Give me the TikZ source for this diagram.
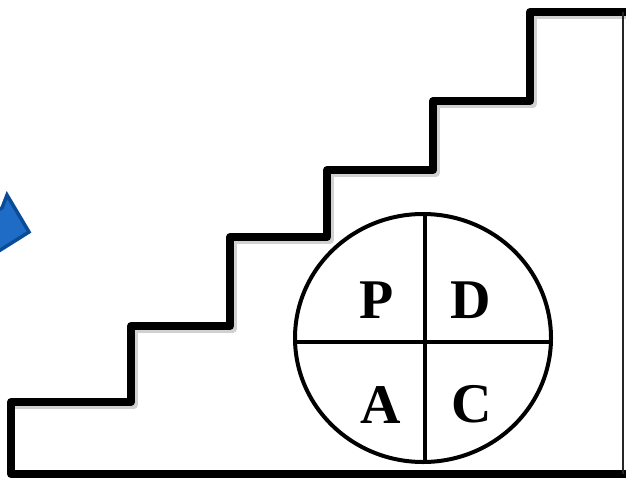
\documentclass[tikz,border=0pt]{standalone}
\usepackage{fontspec}
\setmainfont{Liberation Serif}
\definecolor{arrowfill}{HTML}{1F6CC6}
\definecolor{arrowedge}{HTML}{0B4C98}
\begin{document}
\begin{tikzpicture}[x=1pt,y=-1pt,
  stair/.style={line width=8.2pt,line join=round,line cap=round},
  shadowline/.style={line width=8pt,line join=round,black!18},
  letter/.style={inner sep=0pt,anchor=center,font=\fontsize{56}{56}\selectfont\bfseries},
  pdcaline/.style={line width=4pt}]
\useasboundingbox (0,0) rectangle (626,479);
\fill[white] (0,0) rectangle (626,479);
% blue arrow head (cut off at left)
\fill[draw=arrowedge,fill=arrowfill,line width=3.5pt,line join=miter]
  (-6,212) -- (2,208) -- (7,195) -- (29,232) -- (-6,254) -- cycle;
% shadows
\draw[shadowline,transform canvas={shift={(2.5pt,-3pt)}}]
  (11,402) -- (131,402) -- (131,326) -- (230,326) -- (230,237) -- (327,237)
  -- (327,170) -- (433,170) -- (433,101) -- (530,101) -- (530,12) -- (626,12);
% staircase
\draw[stair] (630,474) -- (11,474) -- (11,402) -- (131,402) -- (131,326)
  -- (230,326) -- (230,237) -- (327,237) -- (327,170) -- (433,170)
  -- (433,101) -- (530,101) -- (530,12) -- (630,12);
\draw[line width=2.4pt,black!85] (623,12) -- (623,474);
% PDCA circle
\coordinate (c) at (423,338);
\draw[pdcaline,fill=white] (c) ellipse [x radius=128,y radius=124];
\coordinate (top) at (425,214);
\coordinate (bot) at (425,462);
\coordinate (lft) at (296,342);
\coordinate (rgt) at (551,342);
\draw[pdcaline] (top) -- (bot);
\draw[pdcaline] (lft) -- (rgt);
\node[letter] (P) at (377,300) {P};
\node[letter] (D) at (471,300) {D};
\node[letter] (A) at (381,405) {A};
\node[letter] (C) at (472,404) {C};
\end{tikzpicture}
\end{document}
